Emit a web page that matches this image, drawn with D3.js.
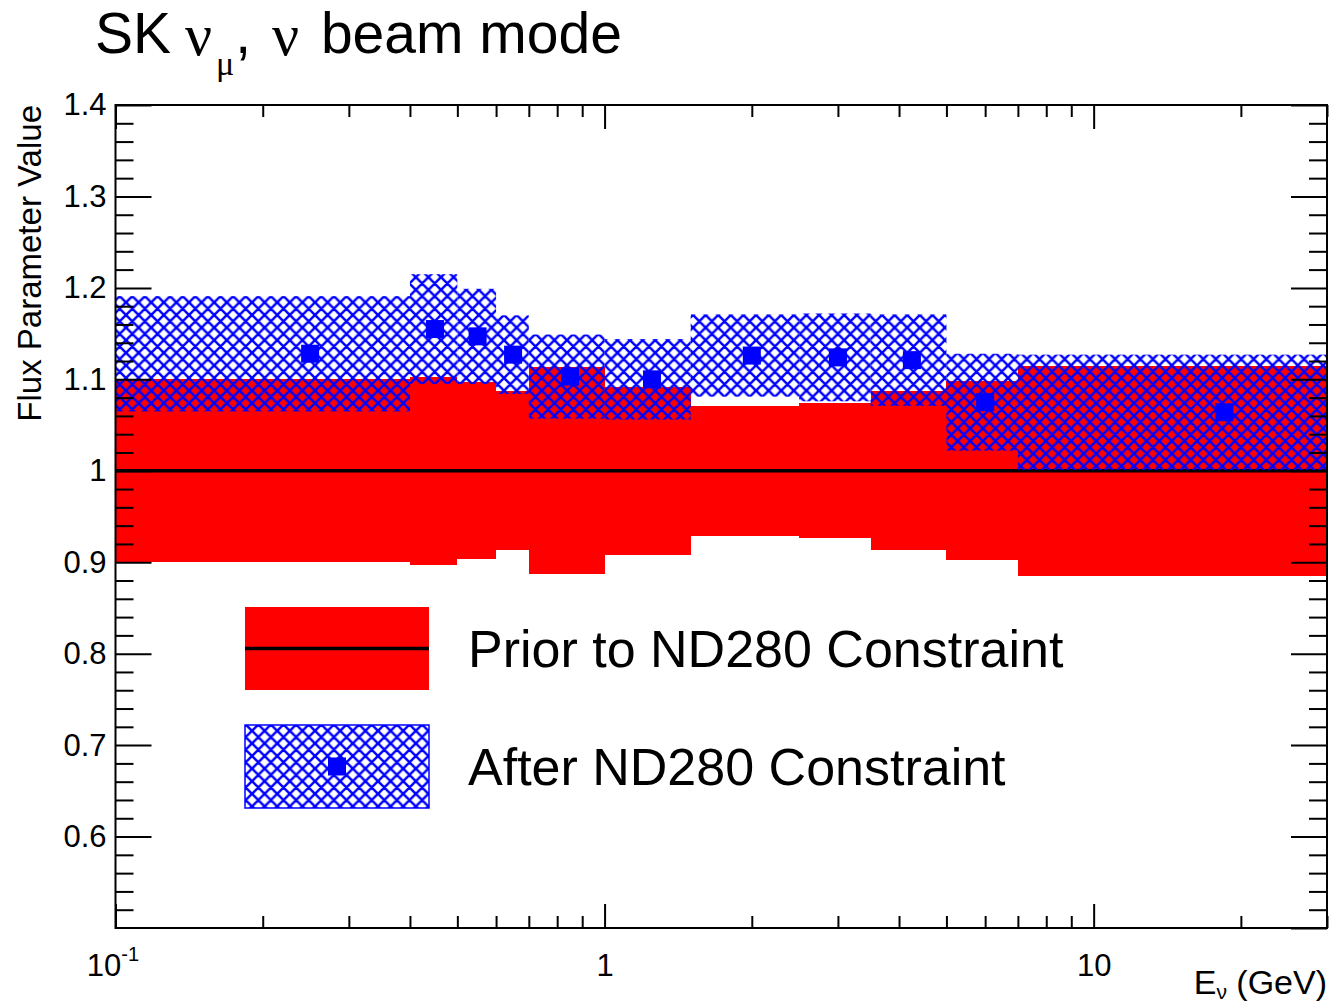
<!DOCTYPE html>
<html>
<head>
<meta charset="utf-8">
<script src="https://cdn.jsdelivr.net/npm/d3@7"></script>
<style>
  body { margin: 0; background: #fff; }
  svg { display: block; }
  text { font-family: "Liberation Sans", Arial, Helvetica, sans-serif; fill: #000; }
</style>
</head>
<body>
<script>
// Energy bin edges (GeV) of the SK numu flux parameters
const binEdges = [0.1, 0.4, 0.5, 0.6, 0.7, 1.0, 1.5, 2.5, 3.5, 5.0, 7.0, 30.0];
// Prior (before ND280 fit): nominal value and 1 sigma error
const priorValue = [1, 1, 1, 1, 1, 1, 1, 1, 1, 1, 1];
const priorError = [0.100, 0.103, 0.097, 0.087, 0.113, 0.092, 0.071, 0.074, 0.087, 0.098, 0.115];
// Posterior (after ND280 fit): central value and 1 sigma error
const postValue = [1.128, 1.155, 1.147, 1.127, 1.103, 1.100, 1.126, 1.124, 1.121, 1.075, 1.064];
const postError = [0.063, 0.060, 0.052, 0.043, 0.046, 0.044, 0.045, 0.048, 0.050, 0.053, 0.063];
// Axis ticks
const yMajorTicks = [0.5, 0.6, 0.7, 0.8, 0.9, 1.0, 1.1, 1.2, 1.3, 1.4];
const xLabelTicks = [0.1, 1, 10];
const legendLabels = ["Prior to ND280 Constraint", "After ND280 Constraint"];

const W = 1331, H = 1003;
const svg = d3.select("body").append("svg").attr("width", W).attr("height", H);

const x = d3.scaleLog().domain([0.1, 30]).range([115.5, 1327]);
const y = d3.scaleLinear().domain([0.5, 1.4]).range([928, 105]);

const bins = binEdges.slice(0, -1).map((lo, i) => ({
  lo, hi: binEdges[i + 1],
  prior: priorValue[i], priorErr: priorError[i],
  post: postValue[i], postErr: postError[i]
}));

// Blue cross-hatch fill
const defs = svg.append("defs");
const p = 12.6;
const hatch = defs.append("pattern").attr("id", "hatch")
  .attr("patternUnits", "userSpaceOnUse").attr("width", p).attr("height", p);
let hd = "";
for (const k of [-1, 0, 1]) {
  hd += `M${-p},${-p + k * p}L${2 * p},${2 * p + k * p}`;
  hd += `M${-p},${2 * p + k * p}L${2 * p},${-p + k * p}`;
}
hatch.append("path").attr("d", hd).attr("stroke", "#0000ff").attr("stroke-width", 2.5).attr("fill", "none");

const clip = defs.append("clipPath").attr("id", "plotClip");
clip.append("rect").attr("x", x.range()[0]).attr("y", y.range()[1])
  .attr("width", x.range()[1] - x.range()[0]).attr("height", y.range()[0] - y.range()[1]);

const plot = svg.append("g").attr("clip-path", "url(#plotClip)");

// Prior error band
plot.append("g").selectAll("rect").data(bins).join("rect")
  .attr("x", d => x(d.lo)).attr("width", d => x(d.hi) - x(d.lo))
  .attr("y", d => y(d.prior + d.priorErr))
  .attr("height", d => y(d.prior - d.priorErr) - y(d.prior + d.priorErr))
  .attr("fill", "#ff0000").attr("shape-rendering", "crispEdges");

// Prior central value
const priorLine = d3.line().x(d => x(d[0])).y(d => y(d[1])).curve(d3.curveStepAfter);
plot.append("path")
  .datum(bins.map(d => [d.lo, d.prior]).concat([[binEdges[binEdges.length - 1], priorValue[priorValue.length - 1]]]))
  .attr("d", priorLine).attr("fill", "none").attr("stroke", "#000").attr("stroke-width", 3.5);

// Posterior error band
plot.append("g").selectAll("rect").data(bins).join("rect")
  .attr("x", d => x(d.lo)).attr("width", d => x(d.hi) - x(d.lo))
  .attr("y", d => y(d.post + d.postErr))
  .attr("height", d => y(d.post - d.postErr) - y(d.post + d.postErr))
  .attr("fill", "url(#hatch)");

// Posterior central values at bin centres
const ms = 18;
plot.append("g").selectAll("rect").data(bins).join("rect")
  .attr("x", d => x((d.lo + d.hi) / 2) - ms / 2)
  .attr("y", d => y(d.post) - ms / 2)
  .attr("width", ms).attr("height", ms)
  .attr("fill", "#0000ff");

// Axes
const fs = 31;
const yMinor = d3.range(0.5, 1.4001, 0.02).map(v => +v.toFixed(2))
  .filter(v => !yMajorTicks.some(m => Math.abs(m - v) < 1e-6));
const xMinor = [];
for (const dec of [0.1, 1, 10]) for (let k = 1; k <= 9; k++) {
  const v = +(dec * k).toPrecision(3);
  if (v > 0.1 && v <= 30 && !xLabelTicks.includes(v)) xMinor.push(v);
}

function styleAxis(g) {
  g.select(".domain").remove();
  g.selectAll(".tick line").attr("stroke", "#000").attr("stroke-width", 2);
  g.selectAll(".tick text").attr("font-size", fs).attr("font-family", '"Liberation Sans", Arial, sans-serif').attr("fill", "#000");
}

svg.append("g").attr("transform", `translate(${x.range()[0]},0)`)
  .call(d3.axisLeft(y).tickValues(yMajorTicks.slice(1)).tickSize(-36).tickPadding(9)
    .tickFormat(d => (d === 1 ? "1" : d3.format(".1f")(d))))
  .call(styleAxis);
svg.append("g").attr("transform", `translate(${x.range()[0]},0)`)
  .call(d3.axisLeft(y).tickValues(yMinor).tickSize(-18).tickFormat(""))
  .call(styleAxis);
svg.append("g").attr("transform", `translate(${x.range()[1]},0)`)
  .call(d3.axisRight(y).tickValues(yMajorTicks).tickSize(-36).tickFormat(""))
  .call(styleAxis);
svg.append("g").attr("transform", `translate(${x.range()[1]},0)`)
  .call(d3.axisRight(y).tickValues(yMinor).tickSize(-18).tickFormat(""))
  .call(styleAxis);

const xAxisMajor = svg.append("g").attr("transform", `translate(0,${y.range()[0]})`)
  .call(d3.axisBottom(x).tickValues(xLabelTicks).tickSize(-24).tickPadding(26)
    .tickFormat(d => (d === 0.1 ? "10" : String(d))))
  .call(styleAxis);
xAxisMajor.selectAll(".tick text").filter(d => d === 0.1)
  .append("tspan").attr("font-size", 20).attr("dy", "-0.75em").text("-1");
xAxisMajor.selectAll(".tick text").filter(d => d === 0.1).attr("dx", -3);
svg.append("g").attr("transform", `translate(0,${y.range()[0]})`)
  .call(d3.axisBottom(x).tickValues(xMinor).tickSize(-12).tickFormat(""))
  .call(styleAxis);
svg.append("g").attr("transform", `translate(0,${y.range()[1]})`)
  .call(d3.axisTop(x).tickValues(xLabelTicks).tickSize(-24).tickFormat(""))
  .call(styleAxis);
svg.append("g").attr("transform", `translate(0,${y.range()[1]})`)
  .call(d3.axisTop(x).tickValues(xMinor).tickSize(-12).tickFormat(""))
  .call(styleAxis);

// Frame
svg.append("rect")
  .attr("x", x.range()[0]).attr("y", y.range()[1])
  .attr("width", x.range()[1] - x.range()[0]).attr("height", y.range()[0] - y.range()[1])
  .attr("fill", "none").attr("stroke", "#000").attr("stroke-width", 2);

// Axis titles
const xt = svg.append("text").attr("x", 1327).attr("y", 994).attr("text-anchor", "end").attr("font-size", 34);
xt.append("tspan").text("E");
xt.append("tspan").attr("font-size", 21).attr("dy", 5).text("ν");
xt.append("tspan").attr("dy", -5).text(" (GeV)");

svg.append("text").attr("transform", "translate(41,105) rotate(-90)")
  .attr("text-anchor", "end").attr("font-size", 33).text("Flux Parameter Value");

// Title
const greek = '"Liberation Serif", "DejaVu Serif", serif';
const title = svg.append("text").attr("x", 95).attr("y", 53).attr("font-size", 57);
title.append("tspan").text("SK ");
title.append("tspan").attr("font-family", greek).attr("font-size", 60).attr("dx", -2).attr("dy", 2).text("ν");
title.append("tspan").attr("font-family", greek).attr("font-size", 34).attr("dx", 4).attr("dy", 20).text("μ");
title.append("tspan").attr("dx", 1).attr("dy", -22).text(", ");
title.append("tspan").attr("font-family", greek).attr("font-size", 60).attr("dx", 5).attr("dy", 2).text("ν");
title.append("tspan").attr("dx", 6).attr("dy", -2).text(" beam mode");

// Legend
const lg = svg.append("g");
const boxX = 245, boxW = 184, boxH = 83;
const rows = [607, 725];
lg.append("rect").attr("x", boxX).attr("y", rows[0]).attr("width", boxW).attr("height", boxH).attr("fill", "#ff0000");
lg.append("line").attr("x1", boxX).attr("x2", boxX + boxW)
  .attr("y1", rows[0] + boxH / 2).attr("y2", rows[0] + boxH / 2)
  .attr("stroke", "#000").attr("stroke-width", 3.5);
lg.append("rect").attr("x", boxX).attr("y", rows[1]).attr("width", boxW).attr("height", boxH)
  .attr("fill", "url(#hatch)").attr("stroke", "#0000ff").attr("stroke-width", 1.5);
lg.append("rect").attr("x", boxX + boxW / 2 - ms / 2).attr("y", rows[1] + boxH / 2 - ms / 2)
  .attr("width", ms).attr("height", ms).attr("fill", "#0000ff");
lg.selectAll("text.lab").data(legendLabels).join("text").attr("class", "lab")
  .attr("x", 468).attr("y", (d, i) => rows[i] + 60).attr("font-size", 52).text(d => d);
</script>
</body>
</html>
